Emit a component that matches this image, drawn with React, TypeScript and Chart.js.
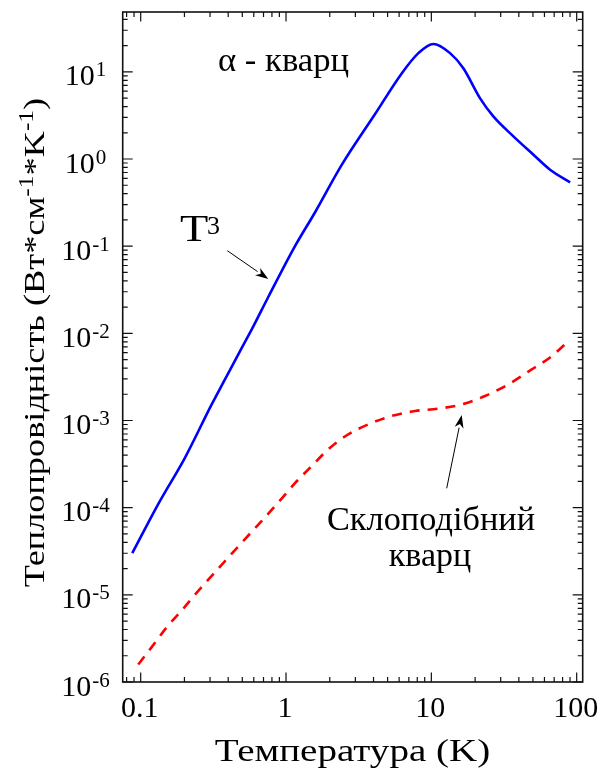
import React, { useEffect, useRef } from "react";
import { Chart, registerables } from "chart.js";

Chart.register(...registerables);

// ---- data ----
const crystalT = [0.0875, 0.132, 0.202, 0.308, 0.38, 0.496, 0.581, 0.755, 1.153, 1.585, 2.417, 4.1, 6.25, 8.14, 10.32, 13.45, 16.6, 21.6, 26.7, 36.7, 50.4, 65.6, 90.1];
const crystalK = [3.01e-5, 1.1e-4, 3.76e-4, 1.53e-3, 2.96e-3, 6.82e-3, 0.0111, 0.0261, 0.1, 0.245, 0.856, 3.28, 9.59, 16.4, 20.9, 16.4, 11.0, 5.0, 3.08, 1.82, 1.12, 0.754, 0.54];

const glassT = [0.0962, 0.119, 0.151, 0.191, 0.249, 0.316, 0.401, 0.522, 0.681, 0.885, 1.153, 1.503, 1.955, 2.617, 3.683, 5.336, 7.72, 11.17, 16.18, 23.4, 33.9, 49.1, 67.4, 87.7];
const glassK = [1.59e-6, 2.51e-6, 4.24e-6, 6.58e-6, 1.11e-5, 1.73e-5, 2.69e-5, 4.36e-5, 7.06e-5, 1.15e-4, 1.91e-4, 3.01e-4, 4.68e-4, 6.77e-4, 9.04e-4, 1.127e-3, 1.285e-3, 1.368e-3, 1.53e-3, 1.91e-3, 2.6e-3, 3.86e-3, 5.48e-3, 8.15e-3];

const xTickValues = [0.1, 1, 10, 100];
const xTickLabels = ["0.1", "1", "10", "100"];
const yTickExponents = [1, 0, -1, -2, -3, -4, -5, -6];

const xTitle = "Температура (K)";
const yTitleParts: [string, boolean][] = [
  ["Теплопровідність (Вт*см", false],
  ["-1", true],
  ["*K", false],
  ["-1", true],
  [")", false],
];
const crystalLabel = "α - кварц";
const glassLabel1 = "Склоподібний";
const glassLabel2 = "кварц";

const f = (size: number) => `${size}px "Liberation Serif"`;

function drawArrow(ctx: CanvasRenderingContext2D, x1: number, y1: number, x2: number, y2: number) {
  const ang = Math.atan2(y2 - y1, x2 - x1);
  const hl = 13, hw = 4.5;
  const bx = x2 - hl * Math.cos(ang), by = y2 - hl * Math.sin(ang);
  ctx.beginPath();
  ctx.moveTo(x1, y1);
  ctx.lineTo(bx, by);
  ctx.strokeStyle = "#000";
  ctx.lineWidth = 1;
  ctx.stroke();
  ctx.beginPath();
  ctx.moveTo(x2, y2);
  ctx.lineTo(bx + hw * Math.sin(ang), by - hw * Math.cos(ang));
  ctx.lineTo(bx + 0.3 * hl * Math.cos(ang), by + 0.3 * hl * Math.sin(ang));
  ctx.lineTo(bx - hw * Math.sin(ang), by + hw * Math.cos(ang));
  ctx.closePath();
  ctx.fillStyle = "#000";
  ctx.fill();
}

// draw text stretched horizontally by sx, anchored at (x,y)
function sText(ctx: CanvasRenderingContext2D, text: string, x: number, y: number, sx: number, align: "left" | "center") {
  const w = ctx.measureText(text).width * sx;
  const x0 = align === "center" ? x - w / 2 : x;
  ctx.save();
  ctx.translate(x0, y);
  ctx.scale(sx, 1);
  ctx.textAlign = "left";
  ctx.fillText(text, 0, 0);
  ctx.restore();
  return w;
}

const framePlugin = {
  id: "frameTicks",
  afterDraw(chart: any) {
    const ctx: CanvasRenderingContext2D = chart.ctx;
    const { left, right, top, bottom } = chart.chartArea;
    const xs = chart.scales.x;
    const ys = chart.scales.y;
    ctx.save();
    ctx.strokeStyle = "#111";
    ctx.lineWidth = 1.6;
    ctx.strokeRect(left, top, right - left, bottom - top);
    ctx.lineWidth = 1.2;
    ctx.beginPath();
    for (let e = -2; e <= 2; e++) {
      for (let m = 1; m <= 9; m++) {
        const v = m * Math.pow(10, e);
        if (v < xs.min || v > xs.max) continue;
        const p = xs.getPixelForValue(v);
        const len = m === 1 ? 9.5 : 5;
        ctx.moveTo(p, bottom);
        ctx.lineTo(p, bottom - len);
        ctx.moveTo(p, top);
        ctx.lineTo(p, top + len);
      }
    }
    for (let e = -7; e <= 2; e++) {
      for (let m = 1; m <= 9; m++) {
        const v = m * Math.pow(10, e);
        if (v < ys.min * 0.999 || v > ys.max) continue;
        const p = ys.getPixelForValue(v);
        const len = m === 1 ? 10 : 5;
        ctx.moveTo(left, p);
        ctx.lineTo(left + len, p);
        ctx.moveTo(right, p);
        ctx.lineTo(right - len, p);
      }
    }
    ctx.stroke();

    // x tick labels
    ctx.fillStyle = "#000";
    ctx.font = f(30);
    ctx.textAlign = "center";
    ctx.textBaseline = "alphabetic";
    xTickValues.forEach((v, i) => {
      ctx.fillText(xTickLabels[i], xs.getPixelForValue(v) - 1, 717);
    });

    // y tick labels
    yTickExponents.forEach((ex) => {
      const p = ys.getPixelForValue(Math.pow(10, ex));
      const base = "10";
      const sup = ex < 0 ? "-" + String(-ex) : String(ex);
      ctx.font = f(30);
      const w1 = ctx.measureText(base).width;
      ctx.font = f(21);
      const w2 = ctx.measureText(sup).width;
      const x0 = 85 - (w1 + w2) / 2;
      ctx.textAlign = "left";
      ctx.font = f(30);
      ctx.fillText(base, x0, p + 13.5);
      ctx.font = f(21);
      ctx.fillText(sup, x0 + w1 + 1, p + 4.5);
    });

    // x title
    ctx.font = f(31);
    sText(ctx, xTitle, 352.5, 760.5, 1.26, "center");

    // y title (rotated, stretched along the text direction)
    const ySx = 1.21;
    ctx.save();
    ctx.translate(43.5, 342.5);
    ctx.rotate(-Math.PI / 2);
    ctx.scale(ySx, 1);
    let total = 0;
    yTitleParts.forEach(([t, s]) => {
      ctx.font = f(s ? 21 : 30);
      total += ctx.measureText(t).width;
    });
    let cx = -total / 2;
    ctx.textAlign = "left";
    yTitleParts.forEach(([t, s]) => {
      ctx.font = f(s ? 21 : 30);
      ctx.fillText(t, cx, s ? -11 : 0);
      cx += ctx.measureText(t).width;
    });
    ctx.restore();

    // annotations
    ctx.font = f(34);
    sText(ctx, crystalLabel, 218, 70.5, 1.02, "left");

    ctx.font = f(37);
    sText(ctx, "T", 180, 240.7, 1.25, "left");
    ctx.font = f(26);
    ctx.textAlign = "left";
    ctx.fillText("3", 207, 233.5);

    ctx.font = f(34);
    sText(ctx, glassLabel1, 431, 529.5, 1.01, "center");
    sText(ctx, glassLabel2, 430, 566, 1.0, "center");

    drawArrow(ctx, 227.3, 250.7, 268.3, 279);
    drawArrow(ctx, 446.7, 488.3, 461.7, 415);
    ctx.restore();
  },
};

export default function App() {
  const ref = useRef<HTMLCanvasElement | null>(null);
  useEffect(() => {
    if (!ref.current) return;
    const chart = new Chart(ref.current, {
      type: "line",
      data: {
        datasets: [
          {
            label: "crystal",
            data: crystalT.map((t, i) => ({ x: t, y: crystalK[i] })),
            borderColor: "#0000ff",
            borderWidth: 2.6,
            pointRadius: 0,
            cubicInterpolationMode: "monotone",
            fill: false,
          },
          {
            label: "glass",
            data: glassT.map((t, i) => ({ x: t, y: glassK[i] })),
            borderColor: "#ff0000",
            borderWidth: 2.6,
            borderDash: [10, 8],
            pointRadius: 0,
            cubicInterpolationMode: "monotone",
            fill: false,
          },
        ],
      },
      options: {
        animation: false,
        responsive: false,
        devicePixelRatio: 1,
        layout: { padding: { left: 122.7, right: 21.3, top: 12, bottom: 87 } },
        plugins: { legend: { display: false }, tooltip: { enabled: false } },
        scales: {
          x: { type: "logarithmic", min: 0.0752, max: 110, display: false },
          y: { type: "logarithmic", min: 1e-6, max: 48.6, display: false },
        },
      },
      plugins: [framePlugin],
    });
    return () => chart.destroy();
  }, []);
  return (
    <div style={{ position: "absolute", left: 0, top: 0 }}>
      <canvas ref={ref} width={604} height={769} style={{ display: "block", width: 604, height: 769 }} />
    </div>
  );
}
